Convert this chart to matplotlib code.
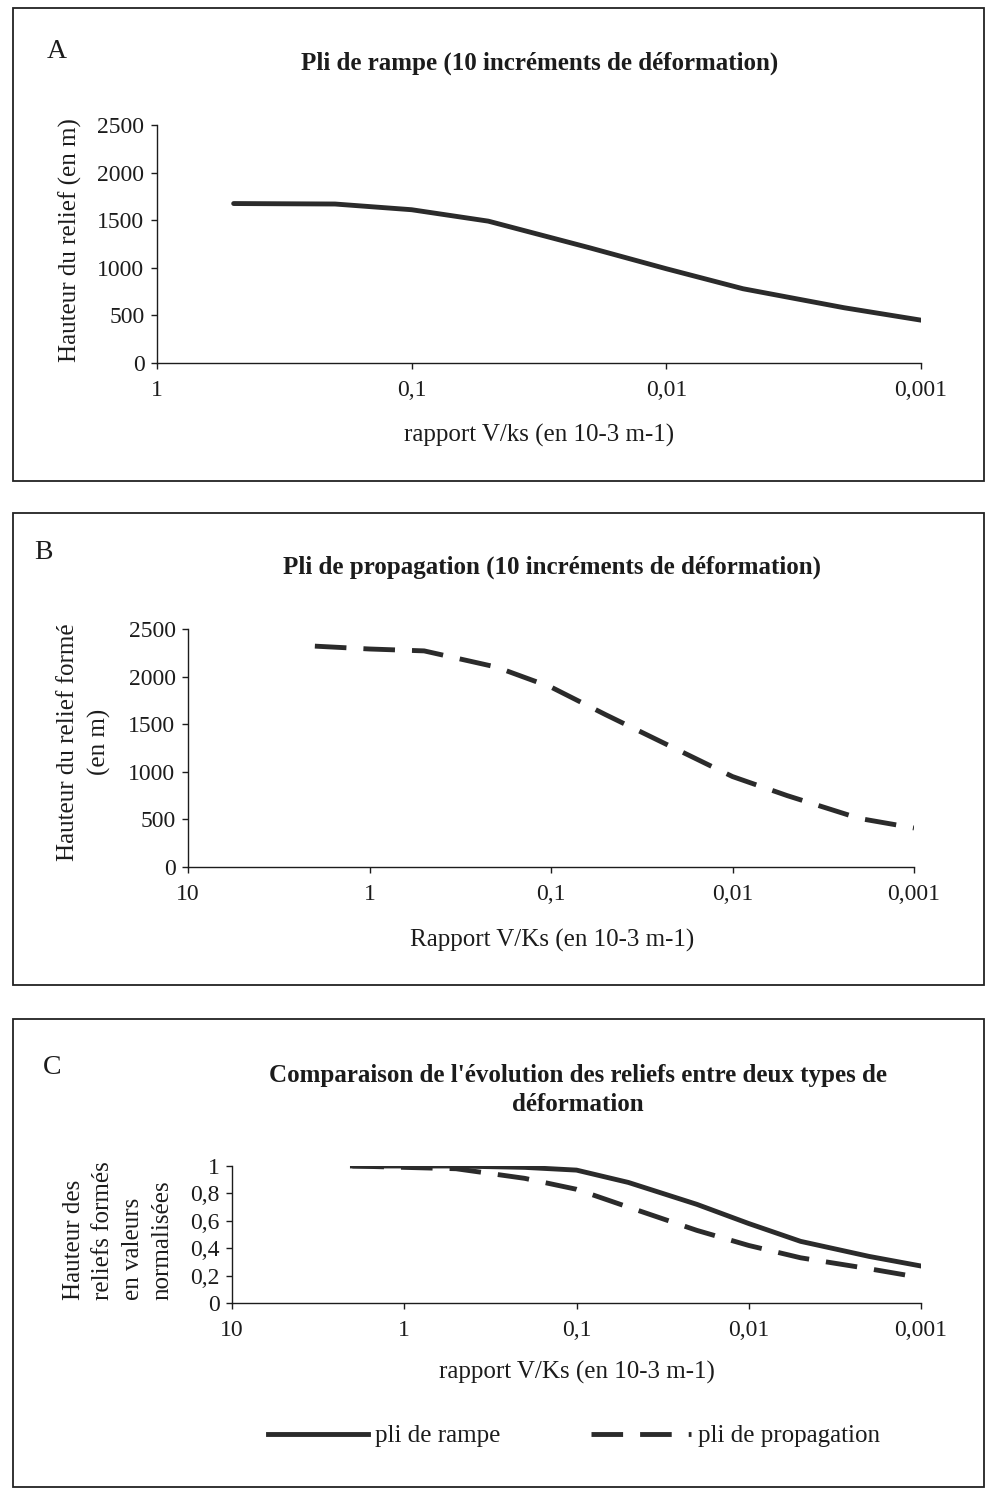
import matplotlib
matplotlib.use("Agg")
import matplotlib.pyplot as plt
from matplotlib.patches import Rectangle
from matplotlib.ticker import NullLocator

# values
ramp_x = [0.5, 0.2, 0.1, 0.05, 0.02, 0.01, 0.005, 0.002, 0.001]
ramp_h = [1675, 1670, 1610, 1490, 1210, 990, 780, 580, 450]

prop_x = [2, 1, 0.5, 0.2, 0.1, 0.05, 0.02, 0.01, 0.005, 0.002, 0.001]
prop_h = [2320, 2290, 2270, 2100, 1890, 1600, 1230, 950, 750, 510, 410]

norm_x = [2, 1, 0.5, 0.2, 0.1, 0.05, 0.02, 0.01, 0.005, 0.002, 0.001]
norm_ramp = [1.0, 1.0, 1.0, 0.99, 0.97, 0.88, 0.72, 0.58, 0.45, 0.34, 0.27]
norm_prop = [1.0, 0.99, 0.98, 0.91, 0.83, 0.70, 0.53, 0.42, 0.33, 0.25, 0.185]

xticks_a = [1, 0.1, 0.01, 0.001]
xlabels_a = ['1', '0,1', '0,01', '0,001']
xticks_bc = [10, 1, 0.1, 0.01, 0.001]
xlabels_bc = ['10', '1', '0,1', '0,01', '0,001']
yticks_h = [0, 500, 1000, 1500, 2000, 2500]
yticks_n = [0, 0.2, 0.4, 0.6, 0.8, 1]
ylabels_n = ['0', '0,2', '0,4', '0,6', '0,8', '1']

plt.rcParams['font.family'] = ['Liberation Serif', 'DejaVu Serif']
TICK_FS = 17
LAB_FS = 18
TITLE_FS = 18
INK = '#1c1c1c'
LINE = '#2b2b2b'
W, H = 986, 1494

fig = plt.figure(figsize=(W / 100, H / 100), dpi=100)


def fx(px):
    return px / W


def fy(py):
    return 1 - py / H


def add_axes(x0, x1, y0, y1):
    return fig.add_axes([fx(x0), fy(y1), fx(x1) - fx(x0), (y1 - y0) / H])


def style(ax, xt, xl, yt, yl, xlim, ylim):
    ax.set_xscale('log')
    ax.set_xlim(*xlim)
    ax.set_ylim(*ylim)
    ax.set_xticks(xt)
    ax.set_xticklabels(xl)
    ax.xaxis.set_minor_locator(NullLocator())
    ax.set_yticks(yt)
    ax.set_yticklabels(yl)
    for s in ['top', 'right']:
        ax.spines[s].set_visible(False)
    for s in ['left', 'bottom']:
        ax.spines[s].set_color(INK)
        ax.spines[s].set_linewidth(1.0)
    ax.tick_params(axis='both', direction='out', length=4, width=1.0,
                   color=INK, labelsize=TICK_FS, labelcolor=INK)
    ax.tick_params(axis='x', pad=8)
    ax.tick_params(axis='y', pad=5)
    ax.patch.set_alpha(0)


def frame(x0, y0, x1, y1):
    fig.add_artist(Rectangle((fx(x0), fy(y1)), fx(x1) - fx(x0), (y1 - y0) / H,
                             transform=fig.transFigure, fill=False,
                             edgecolor='#222222', linewidth=1.3))


# panel A
frame(13, 8, 984, 481)
ax1 = add_axes(157, 921, 125, 363)
ax1.plot(ramp_x, ramp_h, color=LINE, lw=3.5, solid_capstyle='round')
style(ax1, xticks_a, xlabels_a, yticks_h, [str(v) for v in yticks_h], (1, 0.001), (0, 2500))
fig.text(fx(57), fy(52), 'A', fontsize=20, color=INK, ha='center', va='center')
fig.text(fx(540), fy(63), 'Pli de rampe (10 incréments de déformation)',
         fontsize=TITLE_FS, fontweight='bold', color=INK, ha='center', va='center')
fig.text(fx(70), fy(240), 'Hauteur du relief (en m)', rotation=90,
         fontsize=LAB_FS, color=INK, ha='center', va='center')
fig.text(fx(539), fy(435), 'rapport V/ks (en 10-3 m-1)',
         fontsize=LAB_FS, color=INK, ha='center', va='center')

# panel B
frame(13, 513, 984, 985)
ax2 = add_axes(188, 914, 629, 867)
ax2.plot(prop_x, prop_h, color=LINE, lw=3.5, dashes=(6.5, 3.5))
style(ax2, xticks_bc, xlabels_bc, yticks_h, [str(v) for v in yticks_h], (10, 0.001), (0, 2500))
fig.text(fx(43), fy(553), 'B', fontsize=20, color=INK, ha='center', va='center')
fig.text(fx(552), fy(567), 'Pli de propagation (10 incréments de déformation)',
         fontsize=TITLE_FS, fontweight='bold', color=INK, ha='center', va='center')
fig.text(fx(84), fy(742), 'Hauteur du relief formé\n(en m)', rotation=90,
         fontsize=LAB_FS, color=INK, ha='center', va='center', linespacing=1.45)
fig.text(fx(552), fy(940), 'Rapport V/Ks (en 10-3 m-1)',
         fontsize=LAB_FS, color=INK, ha='center', va='center')

# panel C
frame(13, 1019, 984, 1487)
ax3 = add_axes(232, 921, 1166, 1303)
ax3.plot(norm_x, norm_ramp, color=LINE, lw=3.5, label='pli de rampe')
ax3.plot(norm_x, norm_prop, color=LINE, lw=3.5, dashes=(6.5, 3.5), label='pli de propagation')
style(ax3, xticks_bc, xlabels_bc, yticks_n, ylabels_n, (10, 0.001), (0, 1))
fig.text(fx(52), fy(1067), 'C', fontsize=20, color=INK, ha='center', va='center')
fig.text(fx(578), fy(1090), "Comparaison de l'évolution des reliefs entre deux types de\ndéformation",
         fontsize=TITLE_FS, fontweight='bold', color=INK, ha='center', va='center', linespacing=1.35)
fig.text(fx(118), fy(1231), 'Hauteur des\nreliefs formés\nen valeurs\nnormalisées', rotation=90,
         fontsize=LAB_FS, color=INK, ha='center', va='center', multialignment='left',
         linespacing=1.45)
fig.text(fx(577), fy(1372), 'rapport V/Ks (en 10-3 m-1)',
         fontsize=LAB_FS, color=INK, ha='center', va='center')
fig.legend(loc='center', bbox_to_anchor=(fx(574), fy(1436)), ncol=2, frameon=False,
           fontsize=LAB_FS, handlelength=4.0, columnspacing=3.6, handletextpad=0.3,
           labelcolor=INK)

fig.savefig('out.png', dpi=100, facecolor='white')
